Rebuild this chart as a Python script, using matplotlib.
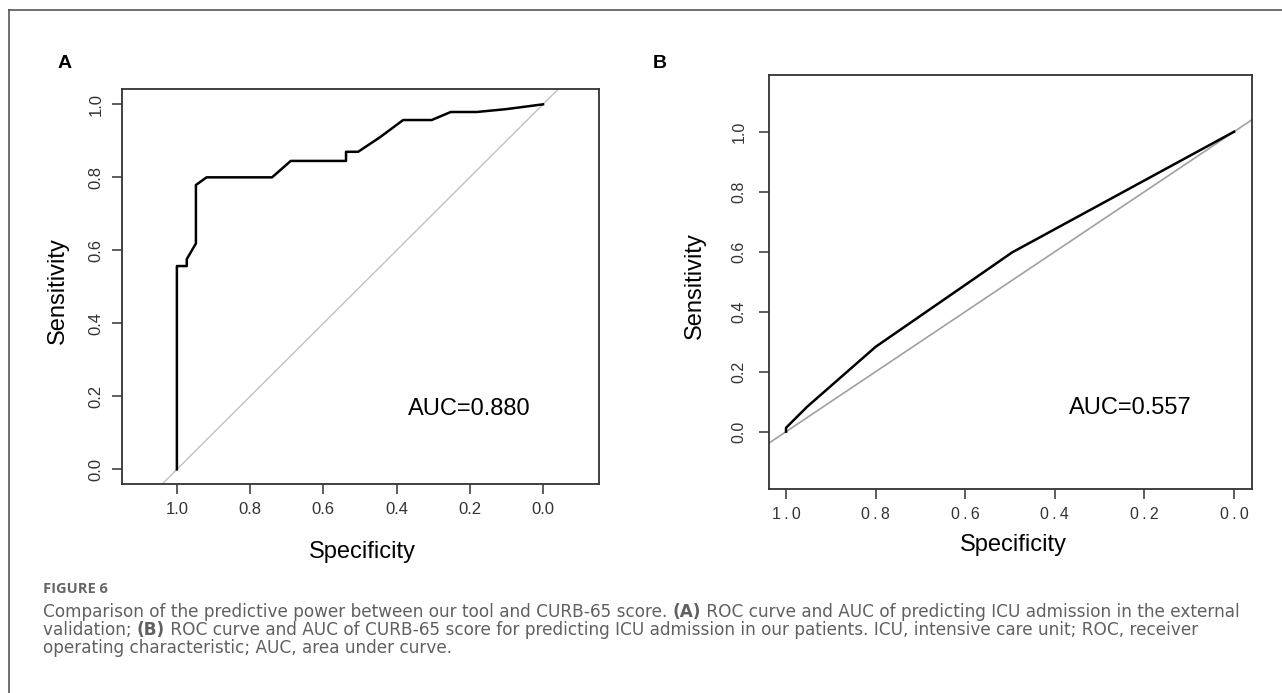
import matplotlib
matplotlib.use("Agg")
import matplotlib.pyplot as plt
from matplotlib.lines import Line2D

plt.rcParams['font.family'] = ['Liberation Sans', 'DejaVu Sans']

# ROC curve A (external validation) - specificity / sensitivity pairs
spec_a = [1.0, 1.0, 0.973, 0.973, 0.948, 0.948, 0.919, 0.740, 0.689, 0.538, 0.538,
          0.505, 0.445, 0.382, 0.304, 0.252, 0.181, 0.099, 0.0]
sens_a = [0.0, 0.557, 0.557, 0.576, 0.619, 0.779, 0.800, 0.800, 0.845, 0.845, 0.870,
          0.870, 0.910, 0.957, 0.957, 0.979, 0.979, 0.987, 1.0]
auc_a = "AUC=0.880"

# ROC curve B (CURB-65)
spec_b = [1.0, 1.0, 0.953, 0.800, 0.579, 0.495, 0.0]
sens_b = [0.0, 0.013, 0.083, 0.283, 0.511, 0.598, 1.0]
auc_b = "AUC=0.557"

ticks = [1.0, 0.8, 0.6, 0.4, 0.2, 0.0]
tick_labels = ["1.0", "0.8", "0.6", "0.4", "0.2", "0.0"]
tick_labels_b = [t.replace(".", "\u2009.\u2009") for t in tick_labels]

fig = plt.figure(figsize=(12.82, 6.93), dpi=100)
W, H = 1282, 693


def px_axes(l, t, r, b):
    return fig.add_axes([l / W, 1 - b / H, (r - l) / W, (b - t) / H])


def style_axes(ax, fs):
    for s in ax.spines.values():
        s.set_linewidth(1.3)
        s.set_color('#333333')
    ax.tick_params(direction='out', length=7, width=1.1, color='#333333',
                   labelsize=fs, labelcolor='#333333', pad=6)
    for lab in ax.get_yticklabels():
        lab.set_rotation(90)
        lab.set_va('center')


# panel A
ax1 = px_axes(121.6, 89, 599, 484)
ax1.set_xlim(1.151, -0.153)
ax1.set_ylim(-0.04, 1.042)
ax1.plot([1.2, -0.2], [-0.2, 1.2], color='#c0c0c0', lw=1.0)
ax1.plot(spec_a, sens_a, color='black', lw=1.8)
ax1.set_xticks(ticks)
ax1.set_xticklabels(tick_labels)
ax1.set_yticks(ticks[::-1])
ax1.set_yticklabels(tick_labels[::-1])
style_axes(ax1, 12)
ax1.text(0.2, 0.165, auc_a, fontsize=17, ha='center', va='center')
ax1.set_xlabel("Specificity", fontsize=17)
ax1.set_ylabel("Sensitivity", fontsize=17)
ax1.xaxis.set_label_coords(0.504, -0.144)
ax1.yaxis.set_label_coords(-0.110, 0.49)

# panel B
ax2 = px_axes(769, 74.7, 1252, 488.7)
ax2.set_xlim(1.038, -0.04)
ax2.set_ylim(-0.19, 1.19)
ax2.plot([1.2, -0.2], [-0.2, 1.2], color='#a0a0a0', lw=1.2)
ax2.plot(spec_b, sens_b, color='black', lw=1.8)
ax2.set_xticks(ticks)
ax2.set_xticklabels(tick_labels_b)
ax2.set_yticks(ticks[::-1])
ax2.set_yticklabels(tick_labels[::-1])
style_axes(ax2, 11.5)
ax2.tick_params(axis='y', pad=9)
ax2.text(0.232, 0.08, auc_b, fontsize=17, ha='center', va='center')
ax2.set_xlabel("Specificity", fontsize=17)
ax2.set_ylabel("Sensitivity", fontsize=17)
ax2.xaxis.set_label_coords(0.507, -0.109)
ax2.yaxis.set_label_coords(-0.130, 0.49)

# panel letters
fig.text(65 / W, 1 - 63 / H, "A", fontsize=14, fontweight='bold', ha='center', va='center')
fig.text(660 / W, 1 - 63 / H, "B", fontsize=14, fontweight='bold', ha='center', va='center')

# outer frame (top and left edges)
fig.add_artist(Line2D([9 / W, 1.0], [1 - 10 / H, 1 - 10 / H], color='#555555', lw=1.2))
fig.add_artist(Line2D([9 / W, 9 / W], [1 - 10 / H, 0.0], color='#555555', lw=1.2))

# caption
cap_font = ['DejaVu Sans']
cap_col = '#606060'
fig.text(43 / W, 1 - 589 / H, "FIGURE 6", fontsize=10.5, fontweight='bold',
         color='#666666', family=['Open Sans', 'DejaVu Sans'], va='center')

cap_lines = [
    [("Comparison of the predictive power between our tool and CURB-65 score. ", 'normal'),
     ("(A)", 'bold'),
     (" ROC curve and AUC of predicting ICU admission in the external", 'normal')],
    [("validation; ", 'normal'), ("(B)", 'bold'),
     (" ROC curve and AUC of CURB-65 score for predicting ICU admission in our patients. "
      "ICU, intensive care unit; ROC, receiver", 'normal')],
    [("operating characteristic; AUC, area under curve.", 'normal')],
]
cap_y = [611.7, 630, 648.3]

renderer = fig.canvas.get_renderer()
for parts, yy in zip(cap_lines, cap_y):
    x = 43.0
    for s, w in parts:
        t = fig.text(x / W, 1 - yy / H, s, fontsize=12.2, fontweight=w,
                     color=cap_col, family=cap_font, va='center')
        tw, th, td = renderer.get_text_width_height_descent(s, t.get_fontproperties(), ismath=False)
        x += tw

fig.savefig("out.png", dpi=100)
